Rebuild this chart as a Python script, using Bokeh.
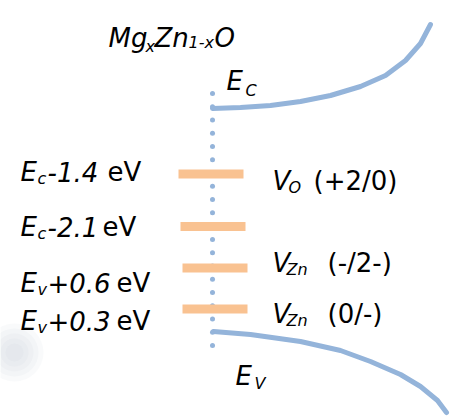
from bokeh.plotting import figure
from bokeh.models import Range1d
from bokeh.core.properties import value
from bokeh.embed import file_html
from bokeh.resources import INLINE
import numpy as np

# ---- data (diagram units = pixel positions) ----
# conduction-band edge (bent) and valence-band edge (bent)
cb_x = [212, 240, 270, 300, 330, 360, 385, 405, 420, 430]
cb_y = [108, 107, 105, 101, 95, 86, 75, 60, 43, 24]
vb_x = [213, 250, 300, 340, 370, 400, 420, 437, 446]
vb_y = [331, 334, 341, 350, 361, 374, 386, 400, 412]

# defect levels
level_main = ["E", "E", "E", "E"]
level_sub = ["c", "c", "v", "v"]
level_offset = ["-1.4", "-2.1", "+0.6", "+0.3"]
level_unit = ["eV", "eV", "eV", "eV"]
level_y = [173.5, 226, 267.5, 308.5]
level_left = [178, 180, 182, 182]
level_right = [243, 245, 247, 247]

# defect assignments
defect_main = ["V", "V", "V"]
defect_sub = ["O", "Zn", "Zn"]
defect_charge = ["(+2/0)", "(-/2-)", "(0/-)"]

# material title pieces
title_main = ["Mg", "Zn", "O"]
title_sub = ["x", "1-x"]

# ---- figure ----
W, H = 455, 416
p = figure(width=W, height=H, x_range=Range1d(0, W), y_range=Range1d(H, 0),
           output_backend="svg", toolbar_location=None,
           x_axis_location=None, y_axis_location=None, min_border=0)
p.grid.visible = False
p.outline_line_color = None
p.background_fill_color = "white"
p.border_fill_color = "white"

BLUE = "#94B4DA"
ORANGE = "#F9C291"
FONT = value("DejaVu Sans")

# faint smudge at the left edge
p.scatter(x=[14] * 5, y=[352] * 5, size=[58, 48, 38, 28, 18], marker="circle",
          fill_color="#B9CAD2", fill_alpha=0.09, line_color=None)

# band edges
p.line(cb_x, cb_y, line_color=BLUE, line_width=5, line_cap="round")
p.line(vb_x, vb_y, line_color=BLUE, line_width=5, line_cap="round")

# dotted vertical guide
dot_y = np.linspace(93, 345, 20)
p.scatter(x=[212] * len(dot_y), y=dot_y, size=5, marker="circle",
          fill_color=BLUE, line_color=None)

# defect level bars
p.quad(left=level_left, right=level_right,
       top=[y - 4.5 for y in level_y], bottom=[y + 4.5 for y in level_y],
       fill_color=ORANGE, line_color=None)


def add_text(xs, ys, texts, size, style):
    p.text(x=xs, y=ys, text=texts, text_font=FONT, text_font_size=f"{size}px",
           text_font_style=style, text_color="#000000",
           text_baseline="alphabetic", text_align="left")


MAIN, SUB = 26, 16

# left labels
left_base = [171, 226, 282, 320]
add_text([20] * 4, left_base, level_main, MAIN, "italic")
add_text([37] * 4, [b + 7 for b in left_base], level_sub, SUB, "italic")
add_text([47, 47, 47, 47], left_base, level_offset, MAIN, "italic")
add_text([107, 102, 116, 116], left_base, level_unit, MAIN, "normal")

# right labels
right_base = [180, 262, 313]
add_text([272] * 3, right_base, defect_main, MAIN, "italic")
add_text([288, 286, 286], [b + 7 for b in right_base], defect_sub, SUB, "italic")
add_text([313, 327, 327], right_base, defect_charge, MAIN, "normal")

# title Mg_xZn_{1-x}O
add_text([108, 154, 214], [37, 37, 37], title_main, MAIN, "italic")
add_text([145, 188], [46, 42], title_sub, SUB, "italic")

# band edge labels
add_text([226, 235], [80, 375], ["E", "E"], MAIN, "italic")
add_text([245, 254], [90, 383], ["C", "V"], SUB, "italic")

open("out.html", "w").write(file_html(p, INLINE))
